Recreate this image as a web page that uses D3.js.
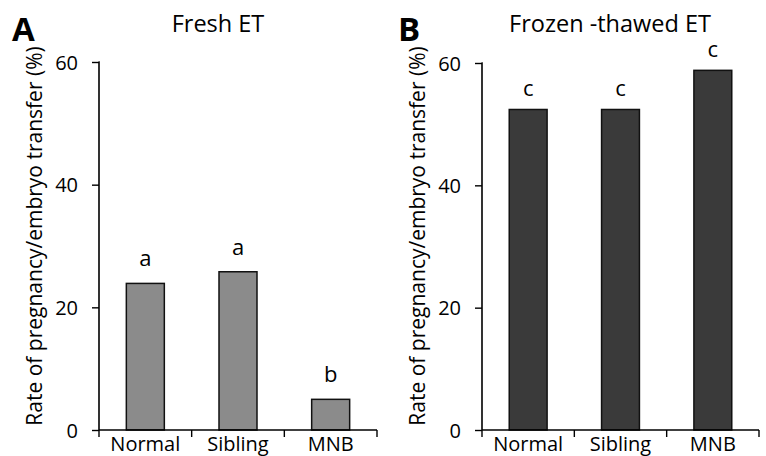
<!DOCTYPE html>
<html>
<head>
<meta charset="utf-8">
<script src="https://cdn.jsdelivr.net/npm/d3@7"></script>
<style>
  body { margin: 0; background: #fff; }
  svg { display: block; }
  text { font-family: "Open Sans", sans-serif; fill: #000; }
</style>
</head>
<body>
<svg id="chart" width="766" height="456"></svg>
<script>
// ---- data ----
const categories = ["Normal", "Sibling", "MNB"];
const freshValues = [23.9, 25.8, 5.0];
const freshLetters = ["a", "a", "b"];
const frozenValues = [52.4, 52.4, 58.8];
const frozenLetters = ["c", "c", "c"];
const yTicks = [0, 20, 40, 60];
const yLabel = "Rate of pregnancy/embryo transfer (%)";

const svg = d3.select("#chart");

function panel(cfg) {
  const g = svg.append("g");
  const x = d3.scaleBand().domain(categories)
    .range([cfg.x0, cfg.x1]).paddingInner(0.59).paddingOuter(0.295);
  const xb = d3.scaleBand().domain(categories).range([cfg.x0, cfg.x1]);
  const y = d3.scaleLinear().domain([0, 60]).range([cfg.yBottom, cfg.yTop]);

  // bars
  g.selectAll("rect.bar").data(cfg.values).enter().append("rect")
    .attr("x", (d, i) => x(categories[i]))
    .attr("width", x.bandwidth())
    .attr("y", d => y(d))
    .attr("height", d => y(0) - y(d))
    .attr("fill", cfg.fill)
    .attr("stroke", "#111")
    .attr("stroke-width", 1.5);

  // letters
  g.selectAll("text.sig").data(cfg.values).enter().append("text")
    .attr("x", (d, i) => x(categories[i]) + x.bandwidth() / 2)
    .attr("y", d => y(d) - cfg.letterGap)
    .attr("text-anchor", "middle")
    .attr("font-size", 22)
    .text((d, i) => cfg.letters[i]);

  // y axis
  const yAxis = d3.axisLeft(y).tickValues(yTicks).tickSize(7).tickPadding(14)
    .tickFormat(d3.format("d"));
  const ya = g.append("g").attr("transform", `translate(${cfg.x0},0)`).call(yAxis);
  ya.select(".domain").attr("d", `M-0.5,${y(60)}H0V${y(0)}`).attr("stroke", "#000").attr("stroke-width", 1.6);
  ya.selectAll(".tick line").attr("stroke", "#000").attr("stroke-width", 1.4);
  ya.selectAll(".tick text").attr("font-size", 20).attr("font-family", "Open Sans").attr("fill", "#000").attr("dy", "0.36em");

  // x axis (ticks at band boundaries)
  const xa = g.append("g").attr("transform", `translate(0,${cfg.yBottom})`);
  xa.append("line").attr("x1", cfg.x0).attr("x2", cfg.x1).attr("y1", 0).attr("y2", 0)
    .attr("stroke", "#000").attr("stroke-width", 1.6);
  const bounds = categories.map(c => xb(c)).concat([cfg.x1]);
  xa.selectAll("line.t").data(bounds).enter().append("line")
    .attr("x1", d => d).attr("x2", d => d).attr("y1", 0).attr("y2", 7)
    .attr("stroke", "#000").attr("stroke-width", 1.4);
  xa.selectAll("text").data(categories).enter().append("text")
    .attr("x", d => xb(d) + xb.bandwidth() / 2)
    .attr("y", 21)
    .attr("text-anchor", "middle")
    .attr("font-size", 20)
    .text(d => d);

  // y label
  g.append("text")
    .attr("transform", `translate(${cfg.labelX},236) rotate(-90)`)
    .attr("text-anchor", "middle")
    .attr("font-size", 21)
    .text(yLabel);

  // title
  g.append("text").attr("x", cfg.titleX).attr("y", 31.5)
    .attr("text-anchor", "middle").attr("font-size", 23.5).text(cfg.title);

  // panel letter
  g.append("text").attr("x", cfg.letterX).attr("y", 40.5)
    .attr("font-family", "Liberation Sans, Arial, sans-serif")
    .attr("font-weight", "bold").attr("font-size", 33).text(cfg.panelLetter);
}

panel({ x0: 99, x1: 377, yTop: 62, yBottom: 430, values: freshValues, letters: freshLetters,
  fill: "#8b8b8b", letterGap: 17, labelX: 42, title: "Fresh ET", titleX: 218,
  panelLetter: "A", letterX: 12 });
panel({ x0: 482, x1: 759, yTop: 63, yBottom: 430, values: frozenValues, letters: frozenLetters,
  fill: "#3a3a3a", letterGap: 13, labelX: 425, title: "Frozen -thawed ET", titleX: 610,
  panelLetter: "B", letterX: 398 });
</script>
</body>
</html>
